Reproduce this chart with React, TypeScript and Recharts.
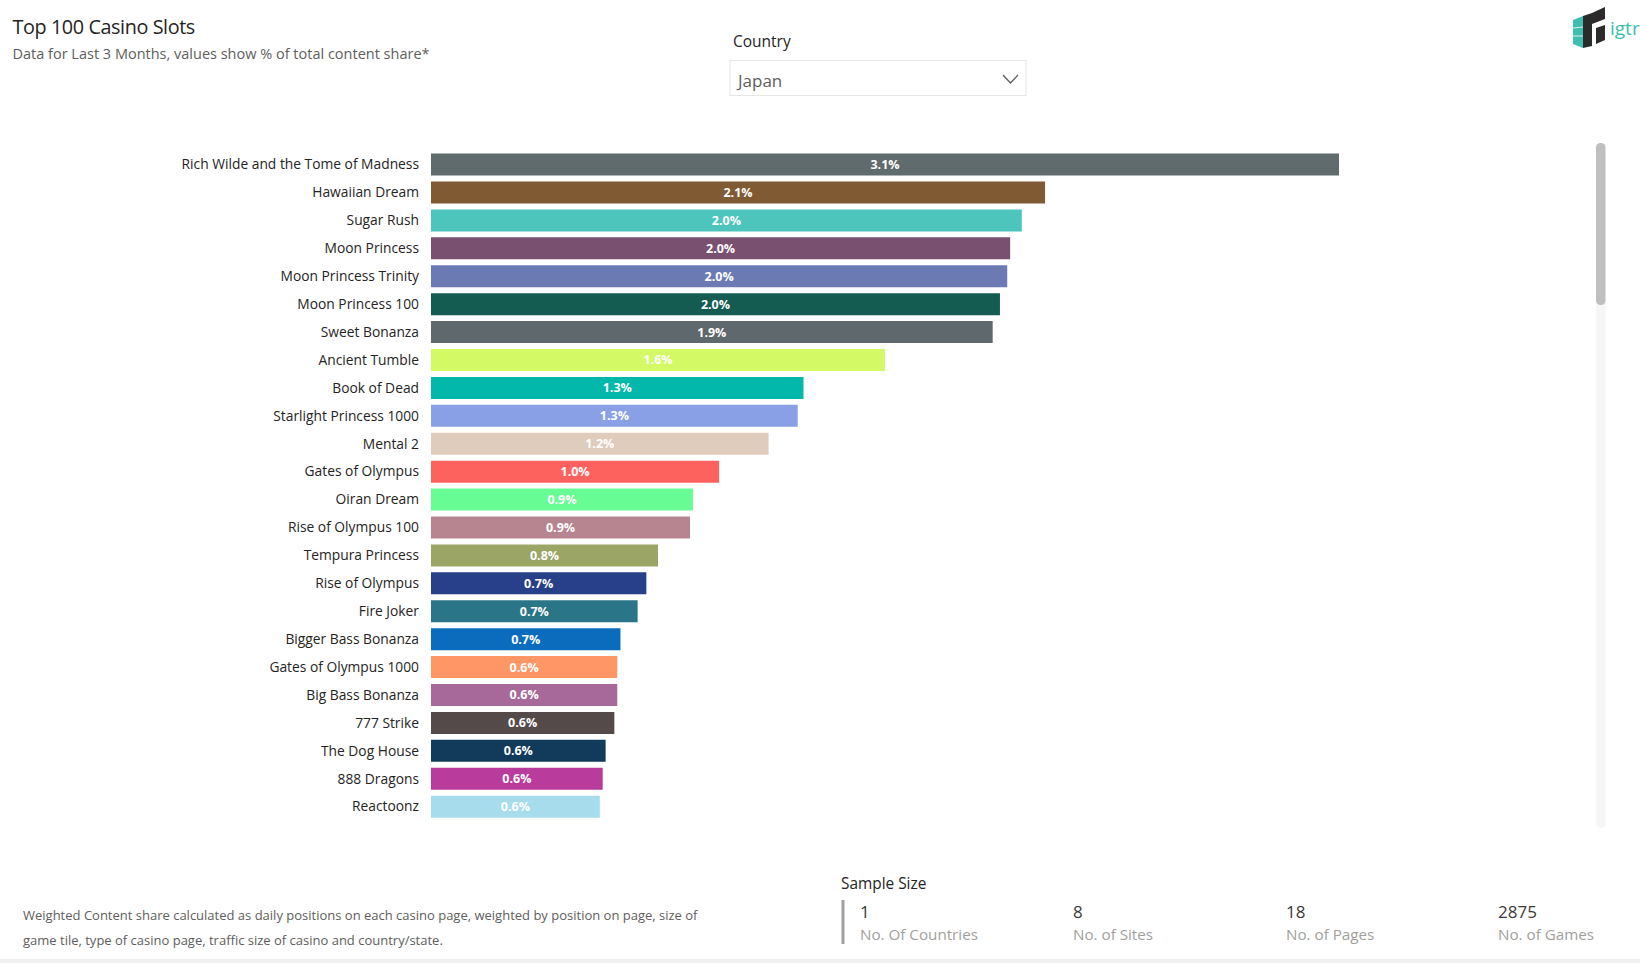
import React from "react";
import { BarChart, Bar, XAxis, YAxis, Cell, LabelList } from "recharts";

const gameNames = [
  "Rich Wilde and the Tome of Madness",
  "Hawaiian Dream",
  "Sugar Rush",
  "Moon Princess",
  "Moon Princess Trinity",
  "Moon Princess 100",
  "Sweet Bonanza",
  "Ancient Tumble",
  "Book of Dead",
  "Starlight Princess 1000",
  "Mental 2",
  "Gates of Olympus",
  "Oiran Dream",
  "Rise of Olympus 100",
  "Tempura Princess",
  "Rise of Olympus",
  "Fire Joker",
  "Bigger Bass Bonanza",
  "Gates of Olympus 1000",
  "Big Bass Bonanza",
  "777 Strike",
  "The Dog House",
  "888 Dragons",
  "Reactoonz",
];

const shareValues = [
  3.12, 2.11, 2.03, 1.99, 1.98, 1.955, 1.93, 1.56, 1.28, 1.26, 1.16, 0.99, 0.9,
  0.89, 0.78, 0.74, 0.71, 0.651, 0.64, 0.64, 0.63, 0.6, 0.59, 0.58,
];

const barColors = [
  "#5F6B6D", "#805A33", "#4EC5BC", "#7A5070", "#6B7AB3", "#145B52",
  "#5F686C", "#D3FA64", "#01B8AA", "#8AA0E6", "#DFCCBC", "#FD625E",
  "#68FC94", "#B7858F", "#9BA566", "#283F8A", "#2A7587", "#0B6CBE",
  "#FE9666", "#A66999", "#554A4A", "#113A5B", "#B93B9B", "#A6DCEC",
];

const sampleValues = ["1", "8", "18", "2875"];
const sampleLabels = ["No. Of Countries", "No. of Sites", "No. of Pages", "No. of Games"];

const chartData = gameNames.map((name, i) => ({ name, value: shareValues[i] }));

const FONT = "'Segoe UI', 'Open Sans', sans-serif";

export default function App() {
  const sampleX = [860, 1073, 1286, 1498];
  return (
    <div
      style={{
        position: "absolute",
        left: 0,
        top: 0,
        width: 1640,
        height: 963,
        background: "#ffffff",
        overflow: "hidden",
        fontFamily: FONT,
      }}
    >
      <svg
        width={1640}
        height={963}
        style={{ position: "absolute", left: 0, top: 0 }}
        fontFamily={FONT}
      >
        <text x={12.5} y={33.7} fontSize={19.8} fill="#252423" letterSpacing={-0.4}>
          Top 100 Casino Slots
        </text>
        <text x={12.5} y={58.7} fontSize={14.5} fill="#605E5C">
          Data for Last 3 Months, values show % of total content share*
        </text>

        <text x={733} y={46.7} fontSize={15.5} fill="#252423">
          Country
        </text>
        <rect x={730} y={60.5} width={296} height={35} fill="#fff" stroke="#E6E6E6" strokeWidth={1} />
        <text x={738} y={87} fontSize={17} fill="#605E5C">
          Japan
        </text>
        <polyline points="1003,75 1010.5,83 1018,75" fill="none" stroke="#605E5C" strokeWidth={1.3} />

        <g>
          <polygon points="1573,20 1583,16 1583,48 1573,44" fill="#3CBFAE" />
          <polygon points="1583,16 1592,13 1592,46 1583,48" fill="#2B2B2B" />
          <polygon points="1592,13 1605,7 1605,19 1592,24" fill="#2B2B2B" />
          <polygon points="1596,28 1605,25 1605,40 1596,44" fill="#2B2B2B" />
          <line x1={1573} y1={28} x2={1583} y2={27} stroke="#ffffff" strokeWidth={0.8} />
          <line x1={1573} y1={36} x2={1583} y2={36} stroke="#ffffff" strokeWidth={0.8} />
          <text x={1610} y={35} fontSize={19} fill="#3CBFAE">
            igtr
          </text>
        </g>

        <rect x={1596} y={143} width={9.5} height={685} rx={4.5} fill="#F6F6F6" />
        <rect x={1596} y={143} width={9.5} height={162} rx={4.5} fill="#BFBFBF" />

        <text x={23} y={920} fontSize={13} fill="#605E5C">
          Weighted Content share calculated as daily positions on each casino page, weighted by position on page, size of
        </text>
        <text x={23} y={945} fontSize={13} fill="#605E5C">
          game tile, type of casino page, traffic size of casino and country/state.
        </text>

        <text x={841} y={889} fontSize={15.4} fill="#252423">
          Sample Size
        </text>
        <rect x={841.5} y={900} width={3} height={44} fill="#A0A0A0" />
        {sampleValues.map((v, i) => (
          <text key={"v" + i} x={sampleX[i]} y={918} fontSize={17} fill="#3B3A39">
            {v}
          </text>
        ))}
        {sampleLabels.map((v, i) => (
          <text key={"l" + i} x={sampleX[i]} y={940} fontSize={15.2} fill="#A19F9D">
            {v}
          </text>
        ))}

        <rect x={0} y={959} width={1640} height={4} fill="#F0F0F0" />
      </svg>

      <div style={{ position: "absolute", left: 0, top: 0 }}>
        <BarChart
          width={1400}
          height={830}
          data={chartData}
          layout="vertical"
          margin={{ top: 150.5, right: 61, bottom: 9.5, left: 0 }}
          barCategoryGap="11%"
        >
          <XAxis type="number" domain={[0, 3.12]} allowDataOverflow hide />
          <YAxis
            type="category"
            dataKey="name"
            width={431}
            axisLine={false}
            tickLine={false}
            tickSize={6}
            tickMargin={6}
            interval={0}
            tick={{ fontSize: 13.8, fill: "#252423", fontFamily: FONT }}
          />
          <Bar dataKey="value" isAnimationActive={false}>
            {chartData.map((d, i) => (
              <Cell key={d.name} fill={barColors[i]} />
            ))}
            <LabelList
              dataKey="value"
              position="center"
              fill="#ffffff"
              fontSize={12.5}
              fontWeight={700}
              fontFamily={FONT}
              formatter={(v: any) => Number(v).toFixed(1) + "%"}
            />
          </Bar>
        </BarChart>
      </div>
    </div>
  );
}
